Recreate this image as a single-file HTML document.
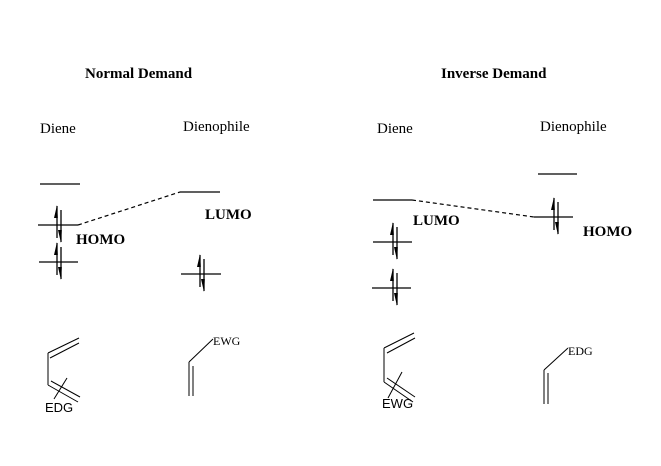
<!DOCTYPE html>
<html><head><style>html,body{margin:0;padding:0;background:#fff}</style></head>
<body>
<svg width="661" height="461" viewBox="0 0 661 461" xmlns="http://www.w3.org/2000/svg" font-family="Liberation Serif, serif">
<defs>
<g id="pair">
<line x1="-2" y1="13" x2="-2" y2="-19" stroke="#000" stroke-width="1.3"/>
<polygon points="-2,-20 -5,-7 -1.2,-7" fill="#000"/>
<line x1="2" y1="-15" x2="2" y2="17" stroke="#000" stroke-width="1.3"/>
<polygon points="2,18 -1,5 2.8,5" fill="#000"/>
</g>
</defs>
<g stroke="#000" stroke-width="1.2" fill="none">
<line x1="40" y1="184" x2="80" y2="184"/>
<line x1="38" y1="225" x2="78" y2="225"/>
<line x1="39" y1="262" x2="78" y2="262"/>
<line x1="180" y1="192" x2="220" y2="192"/>
<line x1="181" y1="274" x2="221" y2="274"/>
<line x1="78" y1="225" x2="180" y2="192" stroke-dasharray="4,3"/>
<line x1="373" y1="200" x2="412" y2="200"/>
<line x1="373" y1="242" x2="412" y2="242"/>
<line x1="372" y1="288" x2="411" y2="288"/>
<line x1="538" y1="174" x2="577" y2="174"/>
<line x1="534" y1="217" x2="573" y2="217"/>
<line x1="412" y1="200" x2="534" y2="217" stroke-dasharray="4,3"/>
</g>
<use href="#pair" x="59" y="225"/>
<use href="#pair" x="59" y="262"/>
<use href="#pair" x="202" y="274"/>
<use href="#pair" x="395" y="242"/>
<use href="#pair" x="395" y="288"/>
<use href="#pair" x="556" y="217"/>
<g stroke="#000" stroke-width="1" fill="none">
<line x1="48" y1="353" x2="79" y2="338"/>
<line x1="50" y1="358" x2="79" y2="343"/>
<line x1="48" y1="353" x2="48" y2="385"/>
<line x1="48" y1="385" x2="78" y2="402"/>
<line x1="51" y1="381" x2="80" y2="397"/>
<line x1="67" y1="378" x2="54" y2="399"/>
<line x1="189" y1="362" x2="213" y2="339"/>
<line x1="189" y1="362" x2="189" y2="396"/>
<line x1="193" y1="366" x2="193" y2="396"/>
<line x1="384" y1="348" x2="414" y2="333"/>
<line x1="387" y1="353" x2="415" y2="338"/>
<line x1="384" y1="348" x2="384" y2="382"/>
<line x1="384" y1="382" x2="413" y2="402"/>
<line x1="387" y1="378" x2="415" y2="397"/>
<line x1="402" y1="372" x2="388" y2="398"/>
<line x1="544" y1="370" x2="568" y2="348"/>
<line x1="544" y1="370" x2="544" y2="404"/>
<line x1="548" y1="373" x2="548" y2="404"/>
</g>
<g fill="#000">
<text x="85" y="78" font-size="15" font-weight="bold">Normal Demand</text>
<text x="441" y="78" font-size="15" font-weight="bold">Inverse Demand</text>
<text x="40" y="133" font-size="15">Diene</text>
<text x="183" y="131" font-size="15">Dienophile</text>
<text x="377" y="133" font-size="15">Diene</text>
<text x="540" y="131" font-size="15">Dienophile</text>
<text x="76" y="244" font-size="15" font-weight="bold">HOMO</text>
<text x="205" y="219" font-size="15" font-weight="bold">LUMO</text>
<text x="413" y="225" font-size="15" font-weight="bold">LUMO</text>
<text x="583" y="236" font-size="15" font-weight="bold">HOMO</text>
<text x="45" y="412" font-size="13" font-family="Liberation Sans, sans-serif">EDG</text>
<text x="213" y="345" font-size="12">EWG</text>
<text x="382" y="408" font-size="13" font-family="Liberation Sans, sans-serif">EWG</text>
<text x="568" y="355" font-size="12">EDG</text>
</g>
</svg>
</body></html>
